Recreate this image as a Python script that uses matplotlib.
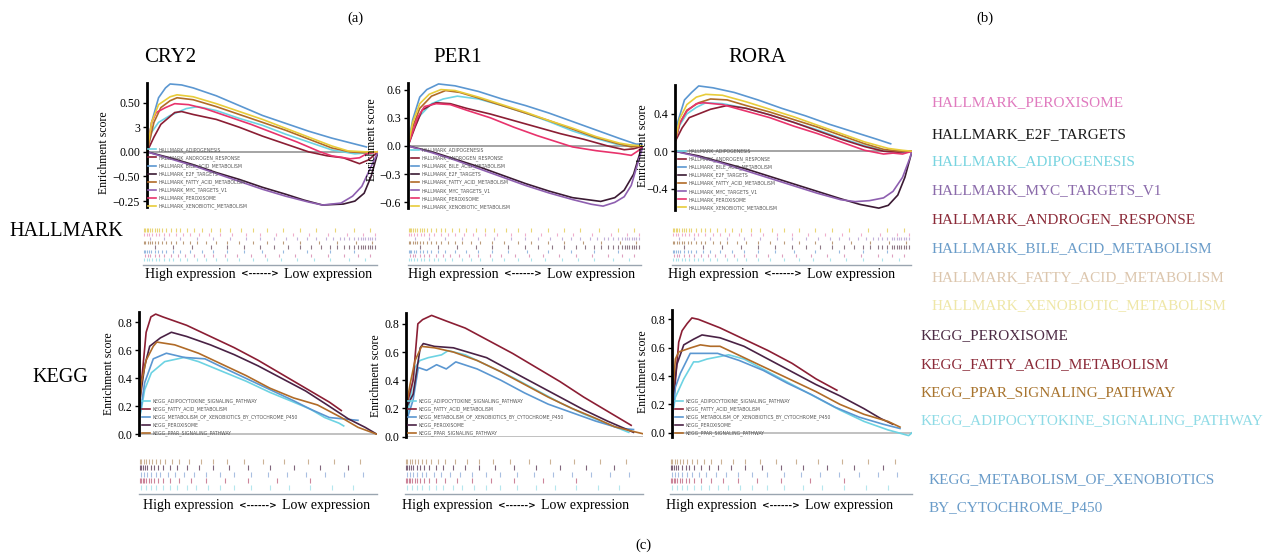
import matplotlib.pyplot as plt
from matplotlib.lines import Line2D

# rank position (% of ranked list) and running enrichment score
# ---- HALLMARK, CRY2 ----
cry2_adipo = [(0, 0), (2, 0.2), (5, 0.3), (10, 0.37), (17, 0.44), (22, 0.46), (30, 0.42), (40, 0.34), (50, 0.27), (60, 0.18), (70, 0.10), (80, 0.02), (90, -0.02), (100, 0)]
cry2_andro = [(0, 0), (3, 0.15), (6, 0.28), (10, 0.36), (12, 0.40), (15, 0.41), (20, 0.38), (30, 0.33), (40, 0.25), (50, 0.16), (60, 0.08), (70, 0.0), (78, -0.04), (85, -0.06), (92, -0.12), (96, -0.08), (100, 0)]
cry2_bile = [(0, 0), (2, 0.3), (5, 0.55), (8, 0.65), (10, 0.69), (15, 0.68), (20, 0.65), (30, 0.57), (40, 0.47), (50, 0.37), (60, 0.29), (70, 0.21), (80, 0.14), (90, 0.08), (95, 0.05)]
cry2_e2f = [(0, 0), (10, -0.06), (20, -0.13), (30, -0.21), (40, -0.28), (50, -0.36), (60, -0.43), (68, -0.49), (76, -0.54), (85, -0.53), (90, -0.50), (94, -0.42), (97, -0.25), (100, 0)]
cry2_fatty = [(0, 0), (3, 0.3), (6, 0.45), (10, 0.52), (13, 0.55), (20, 0.53), (30, 0.46), (40, 0.38), (50, 0.30), (60, 0.22), (70, 0.13), (80, 0.04), (88, 0.0), (95, -0.01), (100, 0)]
cry2_myc = [(0, 0), (10, -0.07), (20, -0.14), (30, -0.22), (40, -0.30), (50, -0.38), (60, -0.45), (70, -0.51), (76, -0.54), (84, -0.52), (89, -0.45), (93, -0.35), (96, -0.2), (100, 0)]
cry2_perox = [(0, 0), (2, 0.3), (4, 0.40), (8, 0.45), (12, 0.49), (18, 0.48), (25, 0.44), (35, 0.36), (45, 0.28), (55, 0.19), (65, 0.10), (75, 0.0), (80, -0.04), (88, -0.07), (92, -0.06), (95, -0.02), (100, 0)]
cry2_xeno = [(0, 0), (2, 0.3), (5, 0.48), (10, 0.56), (13, 0.58), (20, 0.56), (30, 0.49), (40, 0.41), (50, 0.33), (60, 0.24), (70, 0.15), (80, 0.06), (87, 0.01), (95, 0.0), (100, 0)]
# ---- HALLMARK, PER1 ----
per1_adipo = [(0, 0), (2, 0.15), (5, 0.32), (10, 0.45), (15, 0.50), (21, 0.53), (30, 0.50), (40, 0.43), (50, 0.35), (60, 0.26), (70, 0.16), (80, 0.08), (90, 0.01), (100, 0)]
per1_andro = [(0, 0), (3, 0.2), (6, 0.38), (10, 0.44), (12, 0.46), (18, 0.45), (25, 0.40), (35, 0.34), (45, 0.27), (55, 0.20), (65, 0.13), (75, 0.07), (85, 0.0), (92, -0.04), (96, -0.03), (100, 0)]
per1_bile = [(0, 0), (2, 0.28), (5, 0.52), (8, 0.60), (13, 0.66), (20, 0.64), (30, 0.58), (40, 0.50), (50, 0.43), (60, 0.35), (70, 0.26), (80, 0.17), (90, 0.08), (97, 0.02), (100, 0.02)]
per1_e2f = [(0, 0), (10, -0.06), (20, -0.14), (30, -0.22), (40, -0.31), (50, -0.40), (60, -0.48), (70, -0.55), (82, -0.59), (88, -0.55), (92, -0.47), (96, -0.30), (99, -0.05), (100, 0)]
per1_fatty = [(0, 0), (2, 0.2), (5, 0.40), (10, 0.53), (16, 0.59), (22, 0.57), (30, 0.51), (40, 0.43), (50, 0.35), (60, 0.27), (70, 0.18), (80, 0.09), (90, 0.02), (95, -0.01), (100, 0)]
per1_myc = [(0, 0), (10, -0.07), (20, -0.15), (30, -0.24), (40, -0.33), (50, -0.42), (60, -0.50), (70, -0.57), (78, -0.62), (83, -0.64), (88, -0.60), (92, -0.54), (95, -0.42), (97, -0.25), (99, -0.08), (100, 0)]
per1_perox = [(0, 0), (2, 0.15), (4, 0.30), (7, 0.42), (12, 0.45), (18, 0.44), (25, 0.38), (35, 0.30), (45, 0.20), (55, 0.11), (65, 0.03), (70, -0.01), (80, -0.05), (90, -0.08), (95, -0.10), (98, -0.05), (100, 0)]
per1_xeno = [(0, 0), (2, 0.25), (5, 0.45), (9, 0.55), (14, 0.60), (20, 0.59), (30, 0.52), (40, 0.44), (50, 0.36), (60, 0.27), (70, 0.19), (80, 0.10), (90, 0.03), (95, 0.01), (100, 0)]
# ---- HALLMARK, RORA ----
rora_adipo = [(0, 0.1), (2, 0.28), (5, 0.40), (9, 0.47), (13, 0.52), (20, 0.51), (30, 0.46), (40, 0.39), (50, 0.31), (60, 0.23), (70, 0.14), (80, 0.06), (89, 0.0), (95, -0.02), (100, 0)]
rora_andro = [(0, 0.1), (3, 0.25), (6, 0.36), (10, 0.40), (15, 0.45), (22, 0.49), (30, 0.46), (40, 0.39), (50, 0.31), (60, 0.22), (70, 0.13), (80, 0.05), (88, 0.0), (94, -0.01), (100, 0)]
rora_bile = [(0, 0.15), (1, 0.3), (4, 0.55), (7, 0.63), (10, 0.70), (16, 0.68), (25, 0.63), (35, 0.55), (45, 0.46), (55, 0.38), (65, 0.29), (75, 0.21), (85, 0.13), (91, 0.08)]
rora_e2f = [(0, 0), (10, -0.05), (20, -0.12), (30, -0.19), (40, -0.27), (50, -0.35), (60, -0.43), (70, -0.51), (78, -0.57), (86, -0.61), (90, -0.58), (94, -0.47), (97, -0.28), (100, 0)]
rora_fatty = [(0, 0.1), (2, 0.3), (5, 0.44), (10, 0.52), (15, 0.56), (22, 0.55), (30, 0.49), (40, 0.42), (50, 0.34), (60, 0.26), (70, 0.17), (80, 0.08), (88, 0.02), (95, 0.0), (100, 0)]
rora_myc = [(0, 0), (10, -0.06), (20, -0.13), (30, -0.21), (40, -0.29), (50, -0.37), (60, -0.45), (70, -0.52), (76, -0.54), (82, -0.53), (88, -0.50), (92, -0.43), (96, -0.28), (99, -0.08), (100, 0)]
rora_perox = [(0, 0.1), (2, 0.3), (5, 0.43), (9, 0.51), (12, 0.52), (20, 0.50), (30, 0.43), (40, 0.36), (50, 0.27), (60, 0.19), (70, 0.10), (80, 0.01), (88, -0.03), (92, -0.02), (96, -0.03), (100, 0)]
rora_xeno = [(0, 0.1), (2, 0.35), (5, 0.50), (9, 0.58), (13, 0.61), (20, 0.60), (30, 0.53), (40, 0.45), (50, 0.37), (60, 0.28), (70, 0.19), (80, 0.10), (90, 0.03), (96, 0.01), (100, 0)]
# ---- KEGG, CRY2 ----
k_cry2_adipo = [(0, 0.1), (1, 0.18), (2.4, 0.32), (5.2, 0.44), (10.8, 0.52), (19, 0.55), (25, 0.52), (35, 0.45), (45, 0.38), (55, 0.30), (65, 0.23), (72, 0.18), (78, 0.12), (84, 0.08), (86, 0.06)]
k_cry2_fatty = [(0, 0.2), (1.7, 0.49), (3, 0.73), (5, 0.84), (7, 0.86), (10, 0.84), (20, 0.78), (30, 0.70), (40, 0.62), (50, 0.53), (60, 0.43), (70, 0.33), (80, 0.23), (85, 0.17)]
k_cry2_xeno = [(0, 0.1), (2.4, 0.37), (6, 0.54), (11.5, 0.58), (19, 0.55), (27.7, 0.54), (35, 0.48), (45, 0.40), (55, 0.32), (65, 0.24), (72, 0.18), (80, 0.12), (92, 0.10)]
k_cry2_perox = [(0, 0.2), (2.4, 0.49), (4.5, 0.63), (9, 0.69), (13.6, 0.73), (20, 0.70), (30, 0.64), (40, 0.57), (50, 0.49), (60, 0.40), (70, 0.31), (80, 0.20), (88, 0.11), (95, 0.05), (100, 0.0)]
k_cry2_ppar = [(0, 0.15), (1, 0.37), (3, 0.53), (6, 0.63), (7.5, 0.66), (15, 0.64), (25, 0.58), (35, 0.50), (45, 0.42), (55, 0.33), (65, 0.26), (75, 0.21), (85, 0.12), (92, 0.05), (100, 0.0)]
# ---- KEGG, PER1 ----
k_per1_adipo = [(0, 0.1), (1.7, 0.26), (3.8, 0.49), (5.9, 0.54), (9.4, 0.56), (15, 0.58), (17.8, 0.61), (25, 0.58), (35, 0.50), (45, 0.42), (55, 0.33), (65, 0.24), (75, 0.16), (85, 0.09), (94, 0.03)]
k_per1_fatty = [(0, 0.2), (3, 0.40), (5, 0.80), (7, 0.83), (10.8, 0.86), (17, 0.82), (25, 0.77), (35, 0.68), (45, 0.59), (55, 0.49), (65, 0.39), (75, 0.28), (85, 0.18), (95, 0.08)]
k_per1_xeno = [(0, 0.1), (3, 0.26), (5.2, 0.49), (8.7, 0.47), (12.9, 0.51), (17, 0.48), (21, 0.53), (30, 0.48), (40, 0.40), (50, 0.31), (60, 0.23), (70, 0.17), (80, 0.11), (90, 0.06), (96, 0.05)]
k_per1_perox = [(0, 0.2), (3, 0.3), (6, 0.63), (7.3, 0.66), (12, 0.64), (20, 0.63), (34, 0.56), (45, 0.46), (55, 0.37), (65, 0.28), (75, 0.19), (85, 0.11), (96, 0.03)]
k_per1_ppar = [(0, 0.2), (1.7, 0.37), (3.8, 0.54), (6.6, 0.64), (12, 0.63), (20, 0.60), (30, 0.54), (40, 0.46), (50, 0.37), (60, 0.28), (70, 0.20), (80, 0.13), (88, 0.07), (95, 0.04), (100, 0.02)]
# ---- KEGG, RORA ----
k_rora_adipo = [(0, 0.1), (1.4, 0.25), (4.9, 0.38), (9, 0.50), (11, 0.50), (14.6, 0.52), (23.6, 0.55), (30, 0.52), (40, 0.43), (50, 0.34), (60, 0.25), (70, 0.16), (80, 0.08), (90, 0.02), (98.6, -0.02), (100, 0)]
k_rora_fatty = [(0, 0.2), (0.7, 0.22), (2.8, 0.64), (4.2, 0.72), (6.3, 0.77), (8.3, 0.81), (11, 0.80), (20, 0.74), (30, 0.66), (40, 0.58), (50, 0.49), (60, 0.38), (68.7, 0.30)]
k_rora_xeno = [(0, 0.1), (1.4, 0.32), (3.5, 0.42), (7.6, 0.56), (13, 0.56), (19, 0.56), (28, 0.51), (38, 0.44), (48, 0.35), (58, 0.27), (68, 0.18), (78, 0.11), (88, 0.06), (95, 0.03)]
k_rora_perox = [(0, 0.2), (2, 0.48), (4.9, 0.62), (9, 0.66), (12.5, 0.69), (20, 0.67), (30, 0.61), (40, 0.52), (50, 0.43), (60, 0.34), (70, 0.26), (80, 0.17), (87, 0.10), (92, 0.06)]
k_rora_ppar = [(0, 0.2), (1.4, 0.52), (2.8, 0.57), (8, 0.60), (11.8, 0.62), (16, 0.61), (20, 0.61), (30, 0.53), (40, 0.45), (50, 0.37), (60, 0.29), (70, 0.20), (80, 0.13), (90, 0.08), (95, 0.04)]

hm_names = ['HALLMARK_ADIPOGENESIS', 'HALLMARK_ANDROGEN_RESPONSE', 'HALLMARK_BILE_ACID_METABOLISM',
            'HALLMARK_E2F_TARGETS', 'HALLMARK_FATTY_ACID_METABOLISM', 'HALLMARK_MYC_TARGETS_V1',
            'HALLMARK_PEROXISOME', 'HALLMARK_XENOBIOTIC_METABOLISM']
hm_colors = ['#6dd3e3', '#8b1e34', '#5b97d1', '#3b1a33', '#b06b28', '#8e5fb0', '#e8336c', '#e8cc3a']
kg_names = ['KEGG_ADIPOCYTOKINE_SIGNALING_PATHWAY', 'KEGG_FATTY_ACID_METABOLISM',
            'KEGG_METABOLISM_OF_XENOBIOTICS_BY_CYTOCHROME_P450', 'KEGG_PEROXISOME', 'KEGG_PPAR_SIGNALING_PATHWAY']
kg_colors = ['#6dd3e3', '#8b1e34', '#5b97d1', '#4a2245', '#b06b28']

# hit positions in the barcode strips (top row first)
bc_hm_xeno = [0.5, 1, 1.5, 2, 3, 4, 5, 6, 7, 8, 10, 12, 14, 16, 19, 22, 25, 29, 33, 37, 42, 47, 53, 60, 67, 74, 82, 90, 97]
bc_hm_perox = [0.5, 1.5, 2.5, 4, 5.5, 7, 9, 11, 14, 17, 20, 24, 28, 33, 38, 44, 50, 57, 64, 71, 79, 87, 94, 99]
bc_hm_myc = [3, 9, 16, 23, 30, 37, 44, 50, 56, 61, 66, 70, 74, 78, 81, 84, 86, 88, 90, 92, 93, 94, 95, 96, 97, 98, 99]
bc_hm_fatty = [0.5, 1, 2, 3, 4, 5, 6.5, 8, 10, 12, 14, 17, 20, 23, 27, 31, 36, 41, 47, 53, 60, 67, 75, 83, 91, 98]
bc_hm_e2f = [5, 13, 21, 29, 36, 43, 50, 56, 62, 67, 72, 76, 80, 83, 86, 88, 90, 92, 93, 94, 95, 96, 97, 98, 99]
bc_hm_bile = [0.5, 1, 1.5, 2.5, 3.5, 5, 6.5, 8, 10, 13, 16, 20, 25, 30, 36, 43, 51, 60, 70, 80, 90]
bc_hm_andro = [1, 2, 3, 5, 7, 9, 12, 15, 18, 22, 26, 30, 35, 40, 46, 52, 58, 65, 72, 79, 86, 92, 97]
bc_hm_adipo = [0.5, 1.5, 2.5, 4, 5.5, 7, 9, 11, 13, 16, 19, 23, 27, 31, 36, 41, 47, 53, 59, 66, 73, 80, 88, 95]
bc_hm_rows = [bc_hm_xeno, bc_hm_perox, bc_hm_myc, bc_hm_fatty, bc_hm_e2f, bc_hm_bile, bc_hm_andro, bc_hm_adipo]
bc_hm_colors = ['#e6cf5e', '#eea0c4', '#b8a4d4', '#b08a64', '#7a6070', '#86aedb', '#d890b4', '#9edfe8']

bc_kg_ppar = [0.5, 1, 2, 3, 4, 5.5, 7, 9, 11, 14, 17, 21, 26, 31, 37, 44, 52, 61, 71, 82, 93]
bc_kg_perox = [0.5, 1, 1.5, 2.5, 3.5, 5, 6.5, 8, 10, 13, 16, 20, 25, 31, 38, 46, 55, 65, 76, 88]
bc_kg_xeno = [1, 2, 3.5, 5, 7, 9, 12, 15, 19, 23, 28, 34, 40, 47, 54, 62, 70, 78, 86, 94]
bc_kg_fatty = [0.5, 1, 1.5, 2, 3, 4, 5, 6.5, 8, 10, 13, 17, 22, 28, 36, 46, 58, 72]
bc_kg_adipo = [1, 3, 5, 7, 10, 13, 16, 20, 24, 29, 34, 40, 47, 55, 63, 72, 81, 90]
bc_kg_rows = [bc_kg_ppar, bc_kg_perox, bc_kg_xeno, bc_kg_fatty, bc_kg_adipo]
bc_kg_colors = ['#c4a684', '#6a4a64', '#9ab4dc', '#c47088', '#a8e2ea']

# text list on the right
side_labels = ['HALLMARK_PEROXISOME', 'HALLMARK_E2F_TARGETS', 'HALLMARK_ADIPOGENESIS', 'HALLMARK_MYC_TARGETS_V1',
               'HALLMARK_ANDROGEN_RESPONSE', 'HALLMARK_BILE_ACID_METABOLISM', 'HALLMARK_FATTY_ACID_METABOLISM',
               'HALLMARK_XENOBIOTIC_METABOLISM', 'KEGG_PEROXISOME', 'KEGG_FATTY_ACID_METABOLISM',
               'KEGG_PPAR_SIGNALING_PATHWAY', 'KEGG_ADIPOCYTOKINE_SIGNALING_PATHWAY',
               'KEGG_METABOLISM_OF_XENOBIOTICS', 'BY_CYTOCHROME_P450']
side_colors = ['#e07bbf', '#1a1a1a', '#78d4e0', '#8a6aaa', '#8b2a38', '#6a9cc9', '#dcc6ad', '#efe7a8',
               '#4d2b44', '#8b2a38', '#a8742e', '#8fdbe6', '#6a9cc9', '#6a9cc9']
side_x = [932, 932, 932, 932, 932, 932, 932, 932, 921, 921, 921, 921, 929, 929]
side_y = [103, 135, 162, 191, 220, 249, 278, 306, 336, 365, 393, 421, 480, 508]

plt.rcParams['font.family'] = ['Liberation Serif', 'DejaVu Serif']
W, H = 1286, 555
fig = plt.figure(figsize=(W / 100, H / 100), dpi=100)


def px_axes(x0, y0, x1, y1):
    return fig.add_axes([x0 / W, 1 - y1 / H, (x1 - x0) / W, (y1 - y0) / H])


def ftext(x, y, s, **kw):
    fig.text(x / W, 1 - y / H, s, **kw)


def es_panel(box, ylim, yticks, ylabels, curves, names, colors, leg_xy, ylab_xy, zero_color='#8c8c8c'):
    ax = px_axes(*box)
    ax.axhline(0, color=zero_color, lw=1.1, zorder=1)
    for pts, c in zip(curves, colors):
        ax.plot([p[0] for p in pts], [p[1] for p in pts], color=c, lw=1.2, zorder=2)
    ax.set_xlim(0, 100)
    ax.set_ylim(*ylim)
    ax.set_xticks([])
    ax.set_yticks(yticks)
    ax.set_yticklabels(ylabels, fontsize=8.5)
    for s in ['top', 'right', 'bottom']:
        ax.spines[s].set_visible(False)
    ax.spines['left'].set_linewidth(2)
    ax.tick_params(axis='y', length=3, width=1, pad=2)
    ax.patch.set_alpha(0)
    handles = [Line2D([], [], color=c, lw=1.2) for c in colors]
    x0, y0, x1, y1 = box
    ax.legend(handles, names, loc='upper left',
              bbox_to_anchor=((leg_xy[0] - x0) / (x1 - x0), (y1 - leg_xy[1]) / (y1 - y0)),
              prop={'family': 'DejaVu Sans', 'size': 3.3}, labelcolor='#555555', frameon=False,
              handlelength=1.8, handletextpad=0.4, labelspacing=0.52, borderpad=0, borderaxespad=0)
    ftext(ylab_xy[0], ylab_xy[1], 'Enrichment score', rotation=90, ha='center', va='center', fontsize=8.5)
    return ax


def barcode(box, rows, colors, base_y):
    ax = px_axes(*box)
    n = len(rows)
    for i, (hits, c) in enumerate(zip(rows, colors)):
        top = n - i
        ax.vlines(hits, top - 0.85, top - 0.1, color=c, lw=0.8, alpha=0.85)
    ax.set_xlim(0, 100)
    ax.set_ylim(0, n)
    ax.axis('off')
    fig.add_artist(Line2D([box[0] / W, box[2] / W], [1 - base_y / H, 1 - base_y / H], color='#9aa5b0', lw=1))


def expr_label(cx, cy):
    ftext(cx - 31, cy, 'High expression', ha='right', va='center', fontsize=10)
    ftext(cx - 7, cy, '<------>', ha='center', va='center', fontsize=6.5, family='DejaVu Sans', weight='bold')
    ftext(cx + 17, cy, 'Low expression', ha='left', va='center', fontsize=10)


# HALLMARK row
es_panel((147, 83, 378, 207), (-0.56, 0.70), [0.5, 0.25, 0, -0.25, -0.5],
         ['0.50', '3', '0.00', '\u22120.50', '\u22120.25'],
         [cry2_adipo, cry2_andro, cry2_bile, cry2_e2f, cry2_fatty, cry2_myc, cry2_perox, cry2_xeno],
         hm_names, hm_colors, (148, 147), (104, 153))
es_panel((408, 83, 643, 208), (-0.66, 0.67), [0.6, 0.3, 0, -0.3, -0.6],
         ['0.6', '0.3', '0.0', '\u22120.3', '\u22120.6'],
         [per1_adipo, per1_andro, per1_bile, per1_e2f, per1_fatty, per1_myc, per1_perox, per1_xeno],
         hm_names, hm_colors, (411, 147.5), (372, 140))
es_panel((675, 85, 912, 210), (-0.63, 0.71), [0.4, 0, -0.4],
         ['0.4', '0.0', '\u22120.4'],
         [rora_adipo, rora_andro, rora_bile, rora_e2f, rora_fatty, rora_myc, rora_perox, rora_xeno],
         hm_names, hm_colors, (678, 148.5), (643, 146))

# KEGG row
kt = [0, 0.2, 0.4, 0.6, 0.8]
kl = ['0.0', '0.2', '0.4', '0.6', '0.8']
es_panel((139, 312, 377, 435), (-0.005, 0.875), kt, kl,
         [k_cry2_adipo, k_cry2_fatty, k_cry2_xeno, k_cry2_perox, k_cry2_ppar],
         kg_names, kg_colors, (142, 398.5), (109, 374), zero_color='#b0b0b0')
es_panel((406, 313, 643, 437), (-0.003, 0.877), kt, kl,
         [k_per1_adipo, k_per1_fatty, k_per1_xeno, k_per1_perox, k_per1_ppar],
         kg_names, kg_colors, (408, 398.5), (376, 376), zero_color='#b0b0b0')
es_panel((672, 310, 912, 437), (-0.03, 0.866), kt, kl,
         [k_rora_adipo, k_rora_fatty, k_rora_xeno, k_rora_perox, k_rora_ppar],
         kg_names, kg_colors, (675, 398.5), (643, 372), zero_color='#b0b0b0')

# barcodes
for box in [(143, 228, 377, 262), (408, 228, 641, 262), (672, 228, 911, 262)]:
    barcode(box, bc_hm_rows, bc_hm_colors, 265)
for box in [(139, 458, 377, 491), (405, 458, 643, 491), (670, 458, 912, 491)]:
    barcode(box, bc_kg_rows, bc_kg_colors, 494)

for cx in [267, 530, 790]:
    expr_label(cx, 274)
for cx in [265, 524, 788]:
    expr_label(cx, 506)

# titles and panel letters
ftext(170, 57, 'CRY2', ha='center', va='center', fontsize=15)
ftext(458, 57, 'PER1', ha='center', va='center', fontsize=15)
ftext(757, 57, 'RORA', ha='center', va='center', fontsize=15)
ftext(66, 232, 'HALLMARK', ha='center', va='center', fontsize=14.5)
ftext(60, 378, 'KEGG', ha='center', va='center', fontsize=14.5)
ftext(355, 18, '(a)', ha='center', va='center', fontsize=10.5)
ftext(985, 18, '(b)', ha='center', va='center', fontsize=10.5)
ftext(643, 545, '(c)', ha='center', va='center', fontsize=10.5)

for s, c, x, y in zip(side_labels, side_colors, side_x, side_y):
    ftext(x, y, s, color=c, ha='left', va='center', fontsize=11)

fig.savefig('out.png', dpi=100)
